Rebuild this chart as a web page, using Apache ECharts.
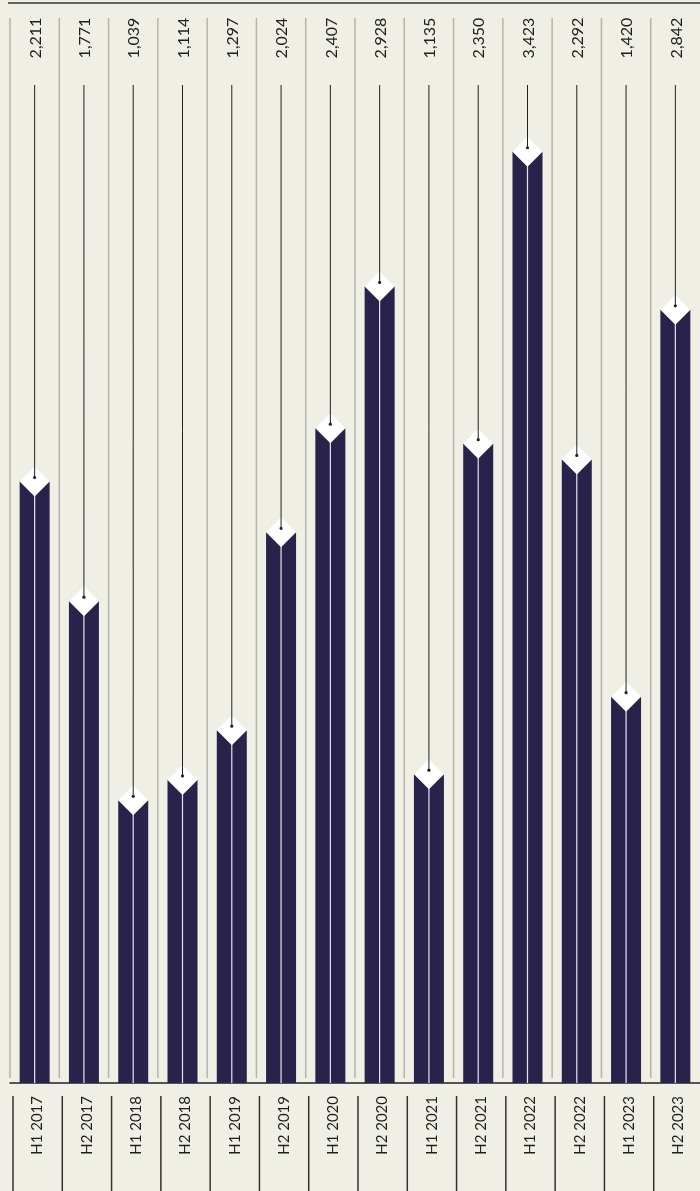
<!DOCTYPE html>
<html lang="en">
<head>
  <meta charset="UTF-8">
  <title>Half-year chart</title>
  <style>
    * { box-sizing: border-box; padding: 0; margin: 0; }
    html, body { width: 100%; height: 100%; background: #f0efe5; }
    #main { width: 700px; height: 1191px; }
  </style>
  <script src="https://cdn.jsdelivr.net/npm/echarts@6/dist/echarts.min.js"></script>
</head>
<body>
  <div id="main"></div>
  <script>
    // data
    var categories = ['H1 2017', 'H2 2017', 'H1 2018', 'H2 2018', 'H1 2019', 'H2 2019', 'H1 2020',
      'H2 2020', 'H1 2021', 'H2 2021', 'H1 2022', 'H2 2022', 'H1 2023', 'H2 2023'];
    var values = [2211, 1771, 1039, 1114, 1297, 2024, 2407, 2928, 1135, 2350, 3423, 2292, 1420, 2842];

    var barColor = '#29234b';
    var textColor = '#1e1e1e';
    var valueFont = '16px Lato, "Liberation Sans", sans-serif';
    var catFont = '15px Lato, "Liberation Sans", sans-serif';

    var myChart = echarts.init(document.getElementById('main'));

    function renderItem(params, api) {
      var pt = api.coord([api.value(0), api.value(1)]);
      var base = api.coord([api.value(0), 0]);
      var band = api.size([1, 0])[0];
      var cs = params.coordSys;
      var x = pt[0], y = pt[1];
      var left = x - band / 2;
      var hw = 15, hh = 15;
      var bottom = cs.y + cs.height;
      return {
        type: 'group',
        children: [
          // divider in the plot
          { type: 'line', shape: { x1: left, y1: 18, x2: left, y2: bottom - 5 },
            style: { stroke: '#b4b4ae', lineWidth: 1.5 } },
          // bar
          { type: 'rect', shape: { x: x - hw, y: y, width: hw * 2, height: base[1] - y },
            style: { fill: barColor } },
          { type: 'line', shape: { x1: x, y1: y, x2: x, y2: base[1] },
            style: { stroke: '#e6e4ee', lineWidth: 1.2 } },
          // diamond cap
          { type: 'polygon', shape: { points: [[x, y - hh], [x + hw, y], [x, y + hh], [x - hw, y]] },
            style: { fill: '#ffffff' } },
          // leader line + dot
          { type: 'line', shape: { x1: x, y1: 85, x2: x, y2: y - 4 },
            style: { stroke: '#222', lineWidth: 1 } },
          { type: 'circle', shape: { cx: x, cy: y - 4, r: 1.6 }, style: { fill: '#222' } },
          // value label
          { type: 'text', x: x + 1, y: 38, rotation: Math.PI / 2,
            style: { text: values[params.dataIndex].toLocaleString('en-US'), x: 0, y: 0,
              align: 'center', verticalAlign: 'middle', font: valueFont, fill: textColor } },
          // category label
          { type: 'text', x: x + 3, y: 1096, rotation: Math.PI / 2,
            style: { text: categories[params.dataIndex], x: 0, y: 0,
              align: 'right', verticalAlign: 'middle', font: catFont, fill: textColor } },
          // divider under the axis
          { type: 'line', shape: { x1: left + 3, y1: 1096, x2: left + 3, y2: 1191 },
            style: { stroke: '#333', lineWidth: 1.5 } }
        ]
      };
    }

    var option = {
      backgroundColor: '#f0efe5',
      animation: false,
      grid: { left: 10, right: -5, top: 22, bottom: 108 },
      xAxis: {
        type: 'category',
        data: categories,
        boundaryGap: true,
        axisLine: { show: true, lineStyle: { color: '#222', width: 1.5 } },
        axisTick: { show: false },
        axisLabel: { show: false },
        splitLine: { show: false }
      },
      yAxis: {
        type: 'value',
        min: 0,
        max: 3900,
        show: false
      },
      graphic: [
        { type: 'line', shape: { x1: 8, y1: 3, x2: 700, y2: 3 },
          style: { stroke: '#333', lineWidth: 1.5 } }
      ],
      series: [{
        type: 'custom',
        renderItem: renderItem,
        clip: false,
        encode: { x: 0, y: 1 },
        data: values.map(function (v, i) { return [i, v]; })
      }]
    };

    myChart.setOption(option);
    window.onresize = myChart.resize;
  </script>
</body>
</html>
